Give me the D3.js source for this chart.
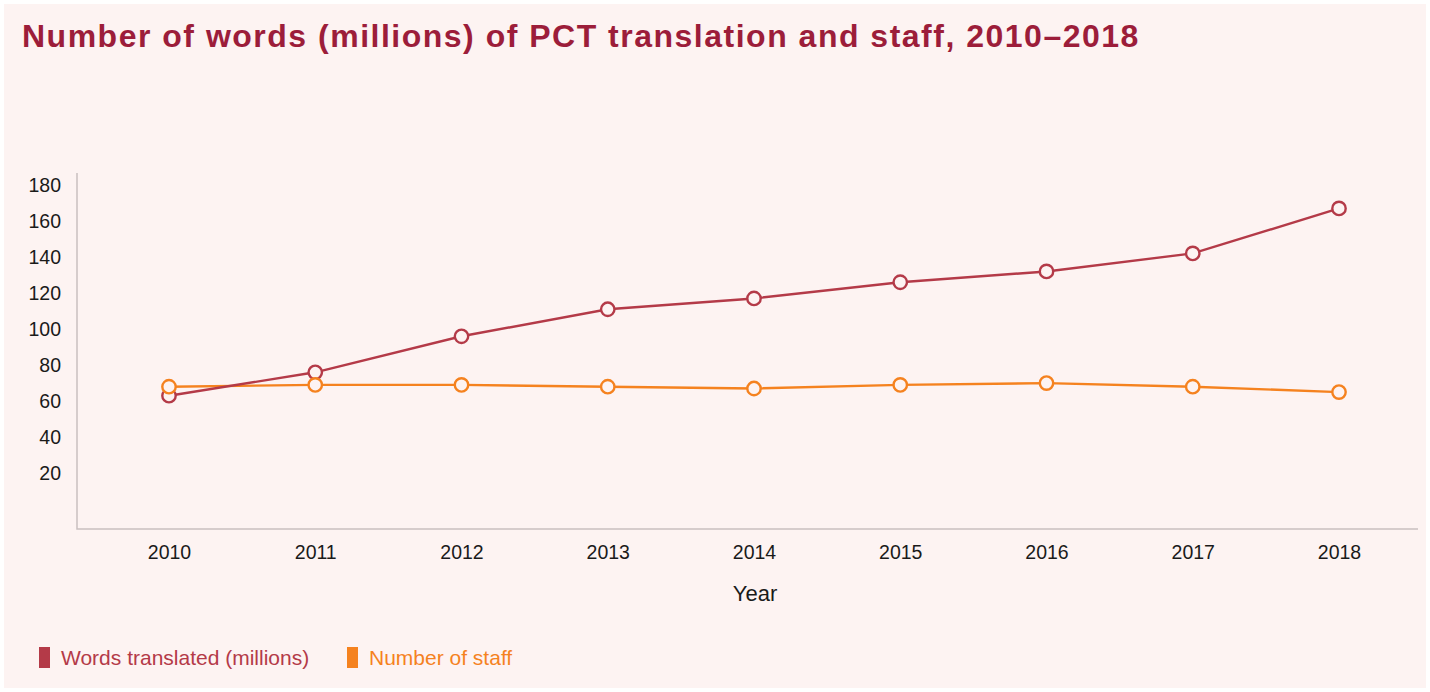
<!DOCTYPE html>
<html>
<head>
<meta charset="utf-8">
<script src="https://cdn.jsdelivr.net/npm/d3@7"></script>
<style>
  body { margin: 0; background: #ffffff; }
  svg { display: block; font-family: "Liberation Sans", Arial, sans-serif; }
</style>
</head>
<body>
<div id="chart"></div>
<script>
// data
const years = ["2010", "2011", "2012", "2013", "2014", "2015", "2016", "2017", "2018"];
const wordsTranslated = [63, 76, 96, 111, 117, 126, 132, 142, 167];
const numberOfStaff = [68, 69, 69, 68, 67, 69, 70, 68, 65];
const yTicks = [20, 40, 60, 80, 100, 120, 140, 160, 180];
const seriesNames = ["Words translated (millions)", "Number of staff"];

const W = 1430, H = 692;
const colors = ["#b43a48", "#f5821f"];
const bg = "#fdf3f2";

const svg = d3.select("#chart").append("svg")
    .attr("width", W)
    .attr("height", H);

// panel
svg.append("rect")
    .attr("x", 4).attr("y", 4)
    .attr("width", W - 8).attr("height", H - 8)
    .attr("fill", bg);

// title
svg.append("text")
    .attr("x", 22).attr("y", 47)
    .attr("fill", "#9c1d3a")
    .attr("font-size", 32)
    .attr("font-weight", "bold")
    .attr("letter-spacing", 1.5)
    .text("Number of words (millions) of PCT translation and staff, 2010\u20132018");

// scales
const plot = {left: 77, right: 1418, top: 173, bottom: 529};

const x = d3.scalePoint()
    .domain(years)
    .range([169, 1339]);

const y = d3.scaleLinear()
    .domain([-11, 180])
    .range([plot.bottom, 185]);

// axes
const yAxis = d3.axisLeft(y).tickValues(yTicks).tickSize(0).tickPadding(16);
const yG = svg.append("g")
    .attr("transform", `translate(${plot.left},0)`)
    .call(yAxis);
yG.select(".domain").remove();
yG.selectAll("text")
    .attr("font-size", 19.5)
    .attr("font-family", "Liberation Sans, Arial, sans-serif")
    .attr("fill", "#1a1a1a");

const xAxis = d3.axisBottom(x).tickSize(0).tickPadding(16);
const xG = svg.append("g")
    .attr("transform", `translate(0,${plot.bottom})`)
    .call(xAxis);
xG.select(".domain").remove();
xG.selectAll("text")
    .attr("font-size", 19.5)
    .attr("font-family", "Liberation Sans, Arial, sans-serif")
    .attr("fill", "#1a1a1a");

// axis lines
svg.append("path")
    .attr("d", `M${plot.left},${plot.top}V${plot.bottom}H${plot.right}`)
    .attr("fill", "none")
    .attr("stroke", "#c9c0c0")
    .attr("stroke-width", 1.5);

// x axis title
svg.append("text")
    .attr("x", 755).attr("y", 601)
    .attr("text-anchor", "middle")
    .attr("font-size", 22)
    .attr("fill", "#1a1a1a")
    .text("Year");

// lines + markers
const series = [wordsTranslated, numberOfStaff];
const line = d3.line()
    .x((d, i) => x(years[i]))
    .y(d => y(d));

[1, 0].forEach(s => {
    svg.append("path")
        .datum(series[s])
        .attr("d", line)
        .attr("fill", "none")
        .attr("stroke", colors[s])
        .attr("stroke-width", 2.4);
});
[0, 1].forEach(s => {
    svg.append("g").selectAll("circle")
        .data(series[s])
        .join("circle")
        .attr("cx", (d, i) => x(years[i]))
        .attr("cy", d => y(d))
        .attr("r", 6.7)
        .attr("fill", bg)
        .attr("stroke", colors[s])
        .attr("stroke-width", 2.4);
});

// legend
const legendX = [39, 347];
const legend = svg.append("g");
seriesNames.forEach((name, i) => {
    legend.append("rect")
        .attr("x", legendX[i]).attr("y", 647)
        .attr("width", 11).attr("height", 21)
        .attr("fill", colors[i]);
    legend.append("text")
        .attr("x", legendX[i] + 22).attr("y", 665)
        .attr("font-size", 21)
        .attr("fill", colors[i])
        .text(name);
});
</script>
</body>
</html>
